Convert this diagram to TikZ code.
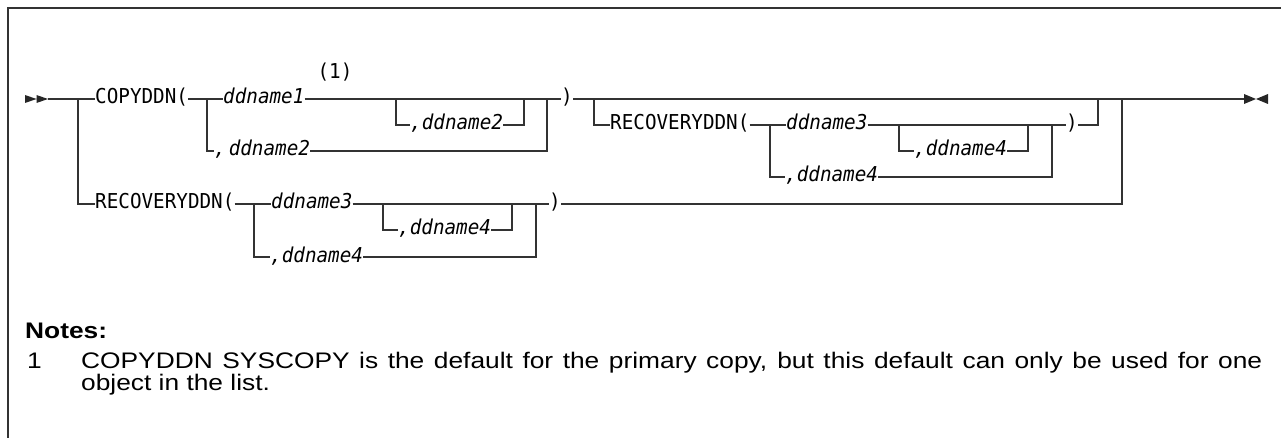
\documentclass[tikz,border=0pt]{standalone}
\usepackage{fontspec}
\setmainfont{Liberation Sans}
\newfontfamily\railfont{DejaVu Sans Mono}[ItalicFont={DejaVu Sans Mono Oblique},FakeStretch=0.94]
\newfontfamily\notefont{Liberation Sans}[FakeStretch=1.17]
\usetikzlibrary{positioning,calc}

\begin{document}
\begin{tikzpicture}[x=1pt,y=-1pt,
        rail/.style={line width=1.2pt,draw=black!80},
        kw/.style={inner sep=0pt,anchor=west,text height=14pt,text depth=4pt,
            font=\railfont\fontsize{20.5}{24}\selectfont},
        var/.style={kw,font=\railfont\itshape\fontsize{20.5}{24}\selectfont},
        note/.style={inner sep=0pt,anchor=base west,font=\notefont\fontsize{22.5}{26}\selectfont}]
        \useasboundingbox (0,0) rectangle (1281,438);
        \draw[line width=1.4pt,black!80] (1281,8) -- (8,8) -- (8,438);

        \foreach \n/\x/\y/\t in {copy/95/99/{COPYDDN(}, rp1/561/99/{)}, rec1/610/125/{RECOVERYDDN(},
                rp2/1066/125/{)}, rec2/95/204/{RECOVERYDDN(}, rp3/549/204/{)}}
            {
                \node[kw] (\n) at (\x,\y) {\t};
            }
        \foreach \n/\x/\y/\t in {dd1/223/99/ddname1, dd2a/410/125/{,ddname2}, dd2b/214/151/{,\kern3pt ddname2},
                dd3a/786/125/ddname3, dd4a/914/151/{,ddname4}, dd4b/785/177/{,ddname4},
                dd3b/271/204/ddname3, dd4c/398/230/{,ddname4}, dd4d/270/257/{,ddname4}}
            {
                \node[var] (\n) at (\x,\y) {\t};
            }
        \node[kw,anchor=center] (fn) at (335,74) {(1)};

        \foreach \n/\x/\y in {st/48/99, j0/78/99, j1/207/99, j2/396/99, j3/524/99, j4/547/99, j5/594/99,
                j6/1098/99, j7/1122/99, en/1244/99, k1/770/125, k2/899/125, k3/1028/125, k4/1052/125,
                m1/254/204, m2/383/204, m3/512/204, m4/536/204}
            {
                \coordinate (\n) at (\x,\y);
            }

        \draw[rail] (st) -- (copy.west);
        \draw[rail] (rp1.east) -- (en);
        \foreach \a/\b in {copy/dd1, dd1/rp1, rec1/dd3a, dd3a/rp2, rec2/dd3b, dd3b/rp3}
            {
                \draw[rail] (\a.east) -- (\b.west);
            }
        \foreach \a/\b in {j0/rec2, j1/dd2b, j2/dd2a, j5/rec1, k1/dd4b, k2/dd4a, m1/dd4d, m2/dd4c}
            {
                \draw[rail] (\a) |- (\b.west);
            }
        \foreach \a/\b in {dd2a/j3, dd2b/j4, rp2/j6, dd4a/k3, dd4b/k4, rp3/j7, dd4c/m3, dd4d/m4}
            {
                \draw[rail] (\a.east) -| (\b);
            }

        \fill[black!85] (25,95) -- (36.5,99) -- (25,103) -- cycle (36.5,95) -- (48,99) -- (36.5,103) -- cycle;
        \fill[black!85] (1244,94) -- (1256,99) -- (1244,104) -- cycle (1268,94) -- (1256,99) -- (1268,104) -- cycle;

        \node[note,font=\notefont\bfseries\fontsize{22.5}{26}\selectfont] (notehead) at (25,338) {Notes:};
        \node[note] (notenum) at (27,368) {1};
        \node[note] (noteA) at (81,368) {\makebox[1181pt][s]{COPYDDN SYSCOPY is the default for the primary copy, but this default can only be used for one}};
        \node[note] (noteB) at (81,390) {object in the list.};
    \end{tikzpicture}
\end{document}
